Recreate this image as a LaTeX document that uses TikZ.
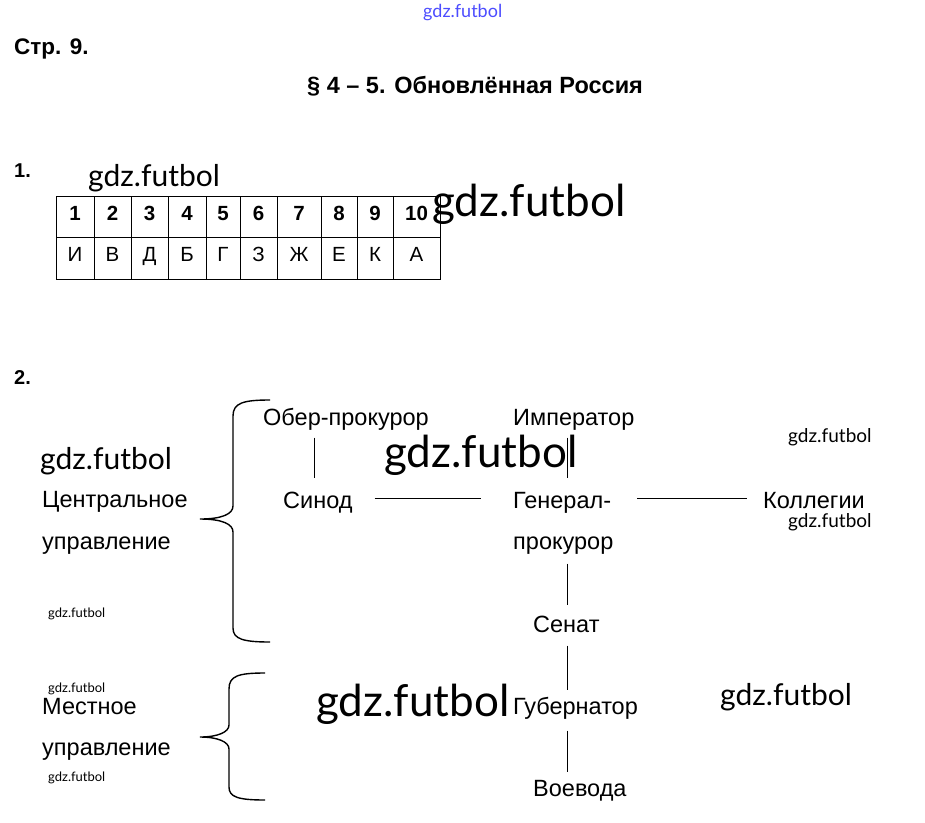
\documentclass[tikz,border=0pt]{standalone}
\usepackage{fontspec}
\setmainfont{Liberation Sans}
\newfontfamily\stampfont{Lato}
\usepackage{tikz}
\tikzstyle{term}=[anchor=base west, inner sep=0pt, text height=17pt, text depth=5pt, font=\fontsize{23.5}{28}\selectfont]
\tikzstyle{head}=[anchor=base west, inner sep=0pt, font=\bfseries\fontsize{23.5}{28}\selectfont]
\tikzstyle{num}=[anchor=base, inner sep=0pt, font=\bfseries\fontsize{20.5}{25}\selectfont]
\tikzstyle{letter}=[anchor=base, inner sep=0pt, font=\fontsize{20.5}{25}\selectfont]
\tikzstyle{stamp}=[anchor=base west, inner sep=0pt]
\tikzstyle{link}=[draw, line width=1pt]
\tikzstyle{curly}=[draw, line width=1.4pt]

\begin{document}
\begin{tikzpicture}[x=1pt, y=-1pt]
    \useasboundingbox (0,0) rectangle (925,822);
    % headings
    \node [head, font=\bfseries\fontsize{22.5}{27}\selectfont] (page) at (14,54) {Стр. 9.};
    \node [head] (title) at (307,93.4) {§ 4 – 5. Обновлённая Россия};
    \node [head, font=\bfseries\fontsize{20}{24}\selectfont] (task1) at (14,177) {1.};
    \node [head, font=\bfseries\fontsize{20}{24}\selectfont] (task2) at (14,384) {2.};

    % task 1: table
    \foreach \xa/\xb/\n/\l in {56/94/1/И, 94/131/2/В, 131/168/3/Д, 168/206/4/Б, 206/240/5/Г,
                               240/277/6/З, 277/321/7/Ж, 321/357/8/Е, 357/393/9/К, 393/440/10/А} {
        \draw [line width=1pt] (\xa,196) rectangle (\xb,279);
        \draw [line width=1pt] (\xa,237) -- (\xb,237);
        \node [num] (n\n) at ({(\xa+\xb)/2},220) {\n};
        \node [letter] (c\n) at ({(\xa+\xb)/2},261) {\l};
    }

    % task 2: scheme
    \node [term] (ober) at (263,425.4) {Обер-прокурор};
    \node [term] (imp) at (513,425.4) {Император};
    \node [term] (cent) at (42,507.4) {Центральное};
    \node [term] (cupr) at (42,549.4) {управление};
    \node [term] (sinod) at (283,508.4) {Синод};
    \node [term] (gen) at (513,508.4) {Генерал-};
    \node [term] (koll) at (763,508.4) {Коллегии};
    \node [term] (prok) at (513,549.4) {прокурор};
    \node [term] (senat) at (533,632.4) {Сенат};
    \node [term] (mest) at (42,714.4) {Местное};
    \node [term] (lupr) at (42,755.4) {управление};
    \node [term] (gub) at (513,714.4) {Губернатор};
    \node [term] (voev) at (533,796.4) {Воевода};

    \coordinate (synline) at (314,0);
    \coordinate (spine) at (567,0);
    \coordinate (row) at (0,498);

    \path [link, shorten <=7pt, shorten >=13pt] (ober.south -| synline) edge (sinod.north -| synline);
    \path [link, shorten <=7pt, shorten >=13pt] (imp.south -| spine) edge (gen.north -| spine);
    \path [link, shorten <=22pt, shorten >=32pt] (sinod.east |- row) edge (gen.west |- row);
    \path [link, shorten <=26pt, shorten >=16pt] (gen.east |- row) edge (koll.west |- row);
    \path [link, shorten <=9pt, shorten >=10pt] (prok.south -| spine) edge (senat.north -| spine);
    \path [link, shorten <=8pt, shorten >=7pt] (senat.south -| spine) edge (gub.north -| spine);
    \path [link, shorten <=11pt, shorten >=7pt] (gub.south -| spine) edge (voev.north -| spine);

    % braces
    \path [curly] (270,400) .. controls (243,400) and (233,403) .. (233,416) -- (233,506)
        .. controls (233,514) and (222,519) .. (200,519)
        .. controls (222,519) and (233,524) .. (233,532) -- (233,628)
        .. controls (233,639) and (243,642) .. (270,642);
    \path [curly] (265,673) .. controls (238,673) and (229,676) .. (229,689) -- (229,725)
        .. controls (229,732) and (218,737) .. (200,737)
        .. controls (218,737) and (229,742) .. (229,749) -- (229,787)
        .. controls (229,797) and (238,800) .. (265,800);

    % watermarks
    \node [stamp, font=\stampfont\fontsize{18}{20}\selectfont, text=blue!70!white] (w0) at (423,17) {gdz.futbol};
    \node [stamp, font=\stampfont\fontsize{30}{34}\selectfont] (w1) at (88,186) {gdz.futbol};
    \node [stamp, font=\stampfont\fontsize{44}{50}\selectfont] (w2) at (432,216) {gdz.futbol};
    \node [stamp, font=\stampfont\fontsize{30}{34}\selectfont] (w3) at (40,469) {gdz.futbol};
    \node [stamp, font=\stampfont\fontsize{44}{50}\selectfont] (w4) at (384,467) {gdz.futbol};
    \node [stamp, font=\stampfont\fontsize{19}{22}\selectfont] (w5) at (788,442) {gdz.futbol};
    \node [stamp, font=\stampfont\fontsize{19}{22}\selectfont] (w6) at (788,527) {gdz.futbol};
    \node [stamp, font=\stampfont\fontsize{13}{15}\selectfont] (w7) at (48,617) {gdz.futbol};
    \node [stamp, font=\stampfont\fontsize{13}{15}\selectfont] (w8) at (48,692) {gdz.futbol};
    \node [stamp, font=\stampfont\fontsize{13}{15}\selectfont] (w9) at (48,781) {gdz.futbol};
    \node [stamp, font=\stampfont\fontsize{44}{50}\selectfont] (w10) at (316,716) {gdz.futbol};
    \node [stamp, font=\stampfont\fontsize{30}{34}\selectfont] (w11) at (720,705) {gdz.futbol};
\end{tikzpicture}
\end{document}
